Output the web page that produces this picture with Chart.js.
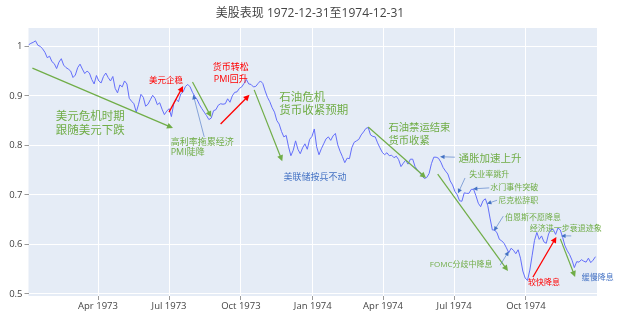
<!DOCTYPE html>
<html lang="zh">
<head>
<meta charset="UTF-8">
<title>美股表现 1972-12-31至1974-12-31</title>
<script src="https://cdn.jsdelivr.net/npm/chart.js@4/dist/chart.umd.min.js"></script>
<style>
  html, body { margin: 0; padding: 0; background: #fff; }
  #wrap { width: 620px; height: 323px; position: relative; }
</style>
</head>
<body>
<div id="wrap"><canvas id="spx"></canvas></div>
<script>
// S&P 500, normalised to the first close, sampled every 3 calendar days
const startDate = '1973-01-02';
const endDate = '1974-12-31';
const stepDays = 3;
const spxNorm = [
  1.003, 1.006, 1.008, 1.011, 1.002, 1.000, 0.995, 0.988, 0.977, 0.980,
  0.969, 0.965, 0.955, 0.968, 0.975, 0.962, 0.957, 0.954, 0.950, 0.937,
  0.942, 0.957, 0.964, 0.954, 0.945, 0.950, 0.946, 0.933, 0.924, 0.941,
  0.930, 0.926, 0.939, 0.946, 0.937, 0.930, 0.939, 0.915, 0.906, 0.922,
  0.918, 0.930, 0.924, 0.895, 0.889, 0.884, 0.867, 0.883, 0.903, 0.897,
  0.879, 0.883, 0.892, 0.901, 0.895, 0.882, 0.886, 0.873, 0.862, 0.869,
  0.874, 0.858, 0.884, 0.893, 0.888, 0.904, 0.908, 0.919, 0.923, 0.918,
  0.907, 0.899, 0.892, 0.882, 0.874, 0.867, 0.860, 0.852, 0.855, 0.870,
  0.872, 0.881, 0.884, 0.883, 0.884, 0.894, 0.887, 0.900, 0.907, 0.908,
  0.915, 0.918, 0.925, 0.933, 0.924, 0.923, 0.918, 0.919, 0.925, 0.930,
  0.925, 0.910, 0.897, 0.888, 0.876, 0.867, 0.850, 0.843, 0.828, 0.817,
  0.820, 0.797, 0.779, 0.790, 0.809, 0.792, 0.783, 0.795, 0.803, 0.792,
  0.812, 0.818, 0.833, 0.797, 0.781, 0.793, 0.803, 0.813, 0.817, 0.810,
  0.819, 0.824, 0.801, 0.788, 0.777, 0.765, 0.774, 0.773, 0.795, 0.806,
  0.809, 0.812, 0.821, 0.827, 0.834, 0.836, 0.821, 0.818, 0.817, 0.805,
  0.795, 0.786, 0.781, 0.785, 0.779, 0.780, 0.775, 0.778, 0.771, 0.757,
  0.764, 0.770, 0.762, 0.772, 0.772, 0.757, 0.750, 0.745, 0.738, 0.733,
  0.735, 0.743, 0.763, 0.776, 0.776, 0.774, 0.766, 0.755, 0.748, 0.742,
  0.728, 0.720, 0.707, 0.700, 0.688, 0.687, 0.704, 0.703, 0.703, 0.711,
  0.711, 0.698, 0.683, 0.676, 0.688, 0.692, 0.679, 0.653, 0.629, 0.629,
  0.623, 0.610, 0.607, 0.602, 0.593, 0.583, 0.592, 0.588, 0.581, 0.589,
  0.572, 0.546, 0.532, 0.527, 0.548, 0.578, 0.608, 0.624, 0.610, 0.617,
  0.605, 0.602, 0.621, 0.630, 0.630, 0.620, 0.633, 0.629, 0.614, 0.597,
  0.587, 0.579, 0.568, 0.553, 0.565, 0.564, 0.569, 0.566, 0.564, 0.572,
  0.563, 0.568, 0.575
];

const tickDates = ['1973-04-01', '1973-07-01', '1973-10-01', '1974-01-01', '1974-04-01', '1974-07-01', '1974-10-01'];
const tickNames = ['Apr 1973', 'Jul 1973', 'Oct 1973', 'Jan 1974', 'Apr 1974', 'Jul 1974', 'Oct 1974'];
const yTicks = [0.5, 0.6, 0.7, 0.8, 0.9, 1];

const GREEN = '#70ad47';
const RED = '#ff0000';
const BLUE = '#4472c4';
const FONT = '"Open Sans", "Noto Sans CJK SC", sans-serif';

// event labels, anchored at [date, value]
const notes = [
  { lines: ['美元危机时期', '跟随美元下跌'], at: ['1973-03-22', 0.843], color: GREEN, size: 11.5, lh: 14 },
  { lines: ['美元企稳'], at: ['1973-06-27', 0.930], color: RED, size: 8.5 },
  { lines: ['高利率拖累经济', 'PMI陡降'], at: ['1973-07-03', 0.796], color: GREEN, size: 9, lh: 10.5, align: 'left' },
  { lines: ['货币转松', 'PMI回升'], at: ['1973-09-18', 0.945], color: RED, size: 9, lh: 11.5 },
  { lines: ['石油危机', '货币收紧预期'], at: ['1973-11-19', 0.883], color: GREEN, size: 11.5, lh: 13, align: 'left' },
  { lines: ['美联储按兵不动'], at: ['1974-01-04', 0.736], color: BLUE, size: 9 },
  { lines: ['石油禁运结束', '货币收紧'], at: ['1974-04-08', 0.822], color: GREEN, size: 10.3, lh: 13, align: 'left' },
  { lines: ['通胀加速上升'], at: ['1974-08-16', 0.773], color: GREEN, size: 10.5 },
  { lines: ['失业率跳升'], at: ['1974-08-15', 0.740], color: GREEN, size: 8 },
  { lines: ['水门事件突破'], at: ['1974-09-16', 0.715], color: GREEN, size: 8 },
  { lines: ['尼克松辞职'], at: ['1974-09-21', 0.689], color: GREEN, size: 8 },
  { lines: ['伯恩斯不愿降息'], at: ['1974-10-10', 0.654], color: GREEN, size: 8 },
  { lines: ['经济进一步衰退迹象'], at: ['1974-11-21', 0.632], color: GREEN, size: 8 },
  { lines: ['FOMC分歧中降息'], at: ['1974-07-10', 0.559], color: GREEN, size: 8 },
  { lines: ['较快降息'], at: ['1974-10-24', 0.522], color: RED, size: 8 },
  { lines: ['缓慢降息'], at: ['1975-01-01', 0.533], color: BLUE, size: 8 }
];

// trend arrows and pointers, from -> to
const arrows = [
  { from: ['1973-01-07', 0.956], to: ['1973-07-06', 0.835], color: GREEN, width: 1.2 },
  { from: ['1973-07-01', 0.867], to: ['1973-07-19', 0.920], color: RED, width: 1.3 },
  { from: ['1973-08-15', 0.817], to: ['1973-08-01', 0.902], color: BLUE, width: 0.6, thin: true },
  { from: ['1973-07-31', 0.928], to: ['1973-08-24', 0.857], color: GREEN, width: 1.2 },
  { from: ['1973-09-05', 0.843], to: ['1973-10-12', 0.902], color: RED, width: 1.3 },
  { from: ['1973-10-18', 0.912], to: ['1973-11-23', 0.768], color: GREEN, width: 1.2 },
  { from: ['1974-03-13', 0.837], to: ['1974-05-26', 0.734], color: GREEN, width: 1.2 },
  { from: ['1974-07-02', 0.776], to: ['1974-06-13', 0.777], color: BLUE, width: 0.6, thin: true },
  { from: ['1974-06-10', 0.742], to: ['1974-09-08', 0.546], color: GREEN, width: 1.2 },
  { from: ['1974-07-15', 0.734], to: ['1974-07-06', 0.703], color: BLUE, width: 0.6, thin: true },
  { from: ['1974-08-15', 0.714], to: ['1974-07-25', 0.712], color: BLUE, width: 0.6, thin: true },
  { from: ['1974-08-25', 0.689], to: ['1974-08-12', 0.682], color: BLUE, width: 0.6, thin: true },
  { from: ['1974-09-02', 0.657], to: ['1974-08-21', 0.627], color: BLUE, width: 0.6, thin: true },
  { from: ['1974-11-28', 0.617], to: ['1974-11-15', 0.617], color: BLUE, width: 0.6, thin: true },
  { from: ['1974-08-29', 0.558], to: ['1974-09-09', 0.586], color: BLUE, width: 0.6, thin: true },
  { from: ['1974-10-10', 0.534], to: ['1974-11-09', 0.615], color: RED, width: 1.3 },
  { from: ['1974-11-14', 0.611], to: ['1974-12-03', 0.534], color: GREEN, width: 1.2 }
];

const DAY = 86400000;
function toTime(s) {
  const [y, m, d] = s.split('-').map(Number);
  return Date.UTC(y, m - 1, d);
}

const t0 = toTime(startDate);
const points = spxNorm.map((v, i) => ({ x: t0 + i * stepDays * DAY, y: v }));

// light blue plotting area behind the grid
const plotBg = {
  id: 'plotBg',
  beforeDraw(chart) {
    const { ctx, chartArea: a } = chart;
    ctx.save();
    ctx.fillStyle = '#e5ecf6';
    ctx.fillRect(a.left, a.top, a.right - a.left, a.bottom - a.top);
    ctx.restore();
  }
};

// title, arrows and labels
const overlay = {
  id: 'overlay',
  afterDatasetsDraw(chart) {
    const { ctx, scales: { x, y } } = chart;
    const px = p => [x.getPixelForValue(toTime(p[0])), y.getPixelForValue(p[1])];

    ctx.save();
    arrows.forEach(a => {
      const [x1, y1] = px(a.from);
      const [x2, y2] = px(a.to);
      const ang = Math.atan2(y2 - y1, x2 - x1);
      const hl = a.thin ? 4.5 : 6;
      const hw = a.thin ? 2.2 : 3;
      ctx.strokeStyle = a.color;
      ctx.fillStyle = a.color;
      ctx.lineWidth = a.width;
      ctx.beginPath();
      ctx.moveTo(x1, y1);
      ctx.lineTo(x2 - Math.cos(ang) * hl * 0.8, y2 - Math.sin(ang) * hl * 0.8);
      ctx.stroke();
      ctx.beginPath();
      ctx.moveTo(x2, y2);
      ctx.lineTo(x2 - Math.cos(ang) * hl - Math.sin(ang) * hw, y2 - Math.sin(ang) * hl + Math.cos(ang) * hw);
      ctx.lineTo(x2 - Math.cos(ang) * hl + Math.sin(ang) * hw, y2 - Math.sin(ang) * hl - Math.cos(ang) * hw);
      ctx.closePath();
      ctx.fill();
    });

    ctx.textBaseline = 'middle';
    notes.forEach(n => {
      const [cx, cy] = px(n.at);
      const lh = n.lh || n.size * 1.25;
      ctx.font = `${n.size}px ${FONT}`;
      ctx.fillStyle = n.color;
      ctx.textAlign = n.align || 'center';
      n.lines.forEach((t, i) => {
        ctx.fillText(t, cx, cy + (i - (n.lines.length - 1) / 2) * lh);
      });
    });

    ctx.font = `12px ${FONT}`;
    ctx.fillStyle = '#444';
    ctx.textAlign = 'center';
    ctx.fillText('美股表现 1972-12-31至1974-12-31', chart.width / 2, 14);
    ctx.restore();
  }
};

Chart.defaults.font.family = FONT;

new Chart(document.getElementById('spx'), {
  type: 'line',
  data: {
    datasets: [{
      data: points,
      borderColor: '#636efa',
      borderWidth: 1,
      pointRadius: 0,
      tension: 0,
      fill: false
    }]
  },
  options: {
    responsive: true,
    maintainAspectRatio: false,
    animation: false,
    devicePixelRatio: 1,
    layout: { padding: { top: 28, right: 23, bottom: 0, left: 0 } },
    plugins: { legend: { display: false }, tooltip: { enabled: false } },
    scales: {
      x: {
        type: 'linear',
        min: toTime(startDate),
        max: toTime(endDate),
        afterBuildTicks: s => { s.ticks = tickDates.map(d => ({ value: toTime(d) })); },
        afterFit: s => { s.height = 27; },
        ticks: {
          callback: (v, i) => tickNames[i],
          color: '#444',
          font: { size: 9.5 },
          padding: 1,
          maxRotation: 0,
          autoSkip: false
        },
        grid: { color: '#fff', lineWidth: 1, tickLength: 4, tickColor: '#999' },
        border: { display: false }
      },
      y: {
        type: 'linear',
        min: 0.4956,
        max: 1.037,
        afterBuildTicks: s => { s.ticks = yTicks.map(v => ({ value: v })); },
        afterFit: s => { s.width = 28.5; },
        ticks: {
          callback: v => String(+v.toFixed(1)),
          color: '#444',
          font: { size: 9.5 },
          padding: 2
        },
        grid: { color: '#fff', lineWidth: 1, tickLength: 4, tickColor: '#999' },
        border: { display: false }
      }
    }
  },
  plugins: [plotBg, overlay]
});
</script>
</body>
</html>
